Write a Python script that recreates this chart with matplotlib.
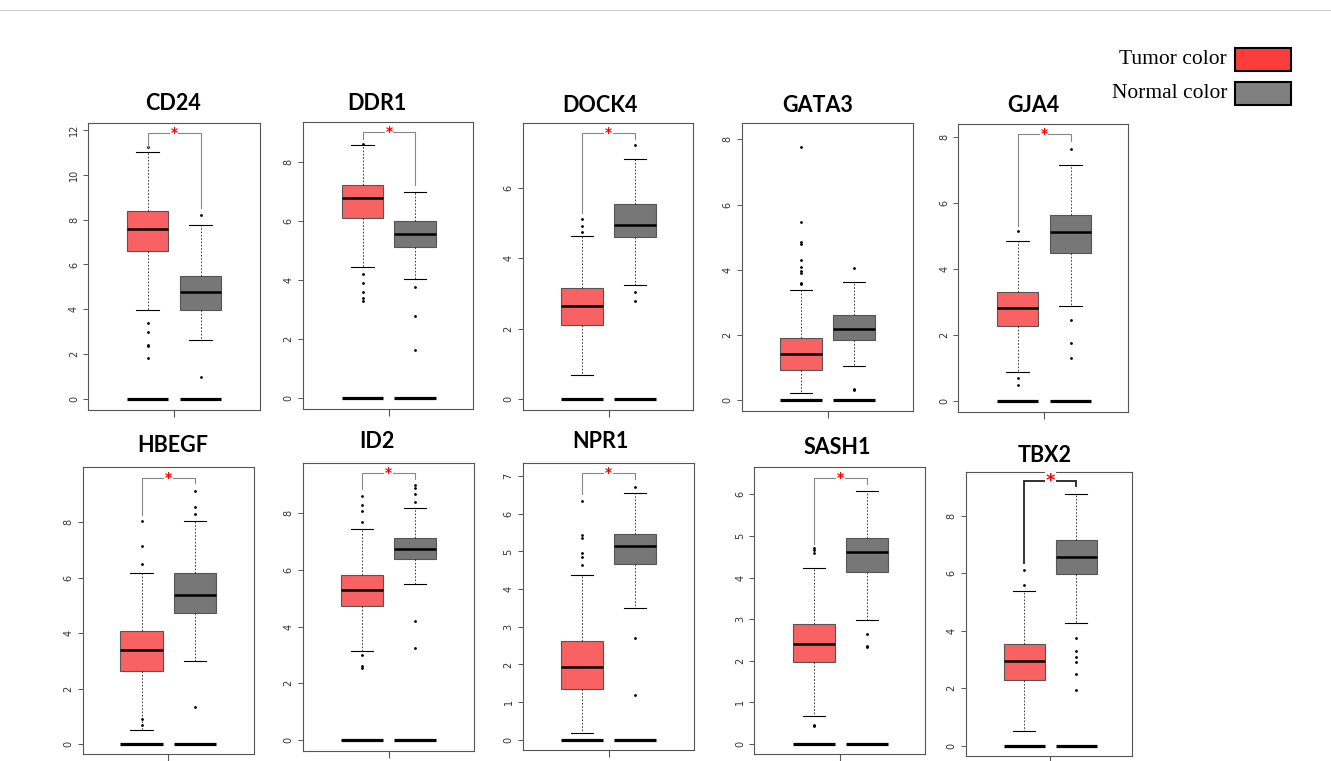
import matplotlib
matplotlib.use("Agg")
import matplotlib.pyplot as plt

W, H = 1331, 761

genes = ["CD24", "DDR1", "DOCK4", "GATA3", "GJA4", "HBEGF", "ID2", "NPR1", "SASH1", "TBX2"]

# Tumor box statistics
tumor_lo  = [3.97, 4.45, 0.70, 0.23, 0.89, 0.49, 3.14, 0.19, 0.67, 0.52]
tumor_q1  = [6.60, 6.10, 2.10, 0.92, 2.28, 2.64, 4.74, 1.36, 1.96, 2.29]
tumor_med = [7.57, 6.76, 2.66, 1.42, 2.82, 3.40, 5.29, 1.92, 2.40, 2.95]
tumor_q3  = [8.40, 7.20, 3.15, 1.90, 3.32, 4.09, 5.84, 2.62, 2.88, 3.55]
tumor_hi  = [11.0, 8.57, 4.63, 3.38, 4.85, 6.18, 7.46, 4.37, 4.24, 5.38]
tumor_out = [
    [11.25, 3.4, 3.0, 2.4, 2.35, 1.85],
    [8.6, 4.2, 3.9, 3.6, 3.4, 3.3],
    [5.1, 4.9, 4.75],
    [7.75, 5.45, 4.85, 4.8, 4.3, 4.1, 3.95, 3.9, 3.6, 3.55],
    [5.15, 0.7, 0.5],
    [8.05, 7.15, 6.5, 0.9, 0.7],
    [8.6, 8.3, 8.1, 7.7, 3.0, 2.6, 2.55],
    [6.35, 5.45, 5.35, 4.95, 4.85, 4.65],
    [4.7, 4.65, 4.6, 0.45, 0.42],
    [6.1, 5.6],
]

# Normal box statistics
normal_lo  = [2.63, 4.02, 3.24, 1.06, 2.88, 2.98, 5.49, 3.51, 2.97, 4.27]
normal_q1  = [3.97, 5.12, 4.59, 1.86, 4.50, 4.74, 6.39, 4.67, 4.14, 5.99]
normal_med = [4.79, 5.54, 4.93, 2.18, 5.14, 5.38, 6.76, 5.14, 4.61, 6.58]
normal_q3  = [5.49, 5.98, 5.53, 2.61, 5.63, 6.16, 7.12, 5.46, 4.96, 7.17]
normal_hi  = [7.75, 6.97, 6.80, 3.62, 7.15, 8.05, 8.20, 6.56, 6.09, 8.77]
normal_out = [
    [8.2, 1.0],
    [3.75, 2.8, 1.65],
    [7.2, 3.05, 2.8],
    [4.05, 0.35, 0.3],
    [7.65, 2.45, 1.75, 1.3],
    [9.15, 8.55, 8.3, 1.35],
    [9.0, 8.9, 8.7, 8.4, 4.2, 3.25],
    [6.7, 2.7, 1.2],
    [2.65, 2.35, 2.32],
    [3.75, 3.3, 3.1, 2.9, 2.5, 1.95],
]

# significance bracket: top y, left drop end, right drop end (None = no bracket)
bracket_top   = [11.87, 9.00, 7.56, None, 8.09, 9.60, 9.41, 7.07, 6.39, 9.20]
bracket_left  = [11.25, 8.78, 5.27, None, 5.32, 8.27, 8.85, 6.52, 4.81, 6.37]
bracket_right = [8.50, 7.20, 7.37, None, 7.89, 9.42, 9.21, 6.91, 6.24, 9.05]

y_max_tick = [12, 8, 6, 8, 8, 8, 8, 7, 6, 8]
y_step     = [2, 2, 2, 2, 2, 2, 2, 1, 1, 2]
y_top      = [12.31, 9.35, 7.84, 8.51, 8.39, 9.99, 9.79, 7.34, 6.65, 9.52]
y_bottom   = [-0.49, -0.36, -0.30, -0.33, -0.32, -0.37, -0.38, -0.27, -0.25, -0.35]

legend_labels = ["Tumor color", "Normal color"]

# ---- layout (pixels) ----
frames = [  # left, top, right, bottom, red centre, grey centre
    (88.0, 123.0, 260.0, 410.0, 147.5, 200.5),
    (302.7, 121.7, 473.0, 409.0, 362.5, 415.3),
    (522.7, 122.7, 693.0, 410.0, 582.2, 635.0),
    (741.7, 122.7, 913.0, 411.0, 801.2, 853.8),
    (958.3, 124.3, 1128.0, 411.7, 1017.5, 1070.5),
    (82.7, 467.3, 254.3, 754.3, 141.5, 195.0),
    (302.7, 462.7, 474.0, 750.7, 362.3, 415.3),
    (522.7, 463.3, 694.0, 750.0, 582.2, 635.0),
    (754.3, 467.3, 925.0, 754.3, 813.8, 866.8),
    (965.7, 472.3, 1131.7, 755.7, 1024.2, 1076.3),
]
title_pos = [(173, 103), (377, 103), (600, 105), (818, 105), (1033, 105),
             (173, 445), (377, 442), (600, 441), (837, 448), (1045, 455)]

TUMOR_FC = "#F96262"
NORMAL_FC = "#777777"

fig = plt.figure(figsize=(W / 100, H / 100), dpi=100)
fig.patch.set_facecolor("white")

# thin top border line
fig.add_artist(plt.Line2D([0, 1], [1 - 10 / H, 1 - 10 / H], color="#CCCCCC", lw=0.8))

for i, g in enumerate(genes):
    l, t, r, b, rc, gc = frames[i]
    ax = fig.add_axes([l / W, 1 - b / H, (r - l) / W, (b - t) / H])
    d = gc - rc
    ax.set_xlim(1 - (rc - l) / d, 2 + (r - gc) / d)
    ax.set_ylim(y_bottom[i], y_top[i])

    stats = [
        dict(whislo=tumor_lo[i], q1=tumor_q1[i], med=tumor_med[i], q3=tumor_q3[i],
             whishi=tumor_hi[i], fliers=[]),
        dict(whislo=normal_lo[i], q1=normal_q1[i], med=normal_med[i], q3=normal_q3[i],
             whishi=normal_hi[i], fliers=[]),
    ]
    bp = ax.bxp(stats, positions=[1, 2], widths=0.79, patch_artist=True,
                showfliers=False, capwidths=0.42,
                boxprops=dict(edgecolor="#555555", linewidth=0.8),
                medianprops=dict(color="black", linewidth=1.8),
                whiskerprops=dict(color="#222222", linewidth=0.6, linestyle=(0, (2, 2))),
                capprops=dict(color="black", linewidth=0.8))
    bp["boxes"][0].set_facecolor(TUMOR_FC)
    bp["boxes"][1].set_facecolor(NORMAL_FC)
    for bx in bp["boxes"]:
        bx.set_zorder(2)

    # extreme points
    ax.plot([1] * len(tumor_out[i]), tumor_out[i], ".", color="black", ms=2.0, zorder=3)
    ax.plot([2] * len(normal_out[i]), normal_out[i], ".", color="black", ms=2.0, zorder=3)

    # bars at zero
    ax.hlines([0, 0], [0.605, 1.605], [1.395, 2.395], color="black", lw=2.3, zorder=3)

    # significance bracket
    if bracket_top[i] is not None:
        strong = (g == "TBX2")
        bc = "#222222" if strong else "#888888"
        blw = 1.3 if strong else 0.8
        yt = bracket_top[i]
        ax.plot([1, 1, 2, 2], [bracket_left[i], yt, yt, bracket_right[i]],
                color=bc, lw=blw, zorder=4, solid_joinstyle="miter")
        ax.text(1.5, yt, "*", color="red", ha="center", va="center",
                fontsize=13 if strong else 10, fontweight="bold", zorder=5,
                bbox=dict(facecolor="white", edgecolor="none", pad=0.6))

    ax.set_yticks(list(range(0, y_max_tick[i] + 1, y_step[i])))
    ax.tick_params(axis="y", labelsize=7, labelcolor="#333333", colors="#555555",
                   length=3.5, width=0.7, pad=3)
    for lab in ax.get_yticklabels():
        lab.set_rotation(90)
        lab.set_va("center")
    ax.set_xticks([1.5])
    ax.set_xticklabels([""])
    ax.tick_params(axis="x", colors="#555555", length=5, width=0.8)
    for sp in ax.spines.values():
        sp.set_color("#555555")
        sp.set_linewidth(0.8)

    tx, ty = title_pos[i]
    fig.text(tx / W, 1 - ty / H, g, ha="center", va="center", fontsize=15.5,
             fontweight="bold", family=["Lato", "DejaVu Sans"])

# legend
leg_colors = ["#FF3C3C", "#808080"]
leg_y = [59, 93]
for lab, col, yy in zip(legend_labels, leg_colors, leg_y):
    fig.text(1227 / W, 1 - yy / H, lab, ha="right", va="center", fontsize=15.5,
             family=["Liberation Serif", "DejaVu Serif"])
    fig.add_artist(plt.Rectangle((1235 / W, 1 - (yy + 11.5) / H), 56 / W, 23 / H,
                                 facecolor=col, edgecolor="black", lw=1.5))

fig.savefig("out.png", dpi=100)
